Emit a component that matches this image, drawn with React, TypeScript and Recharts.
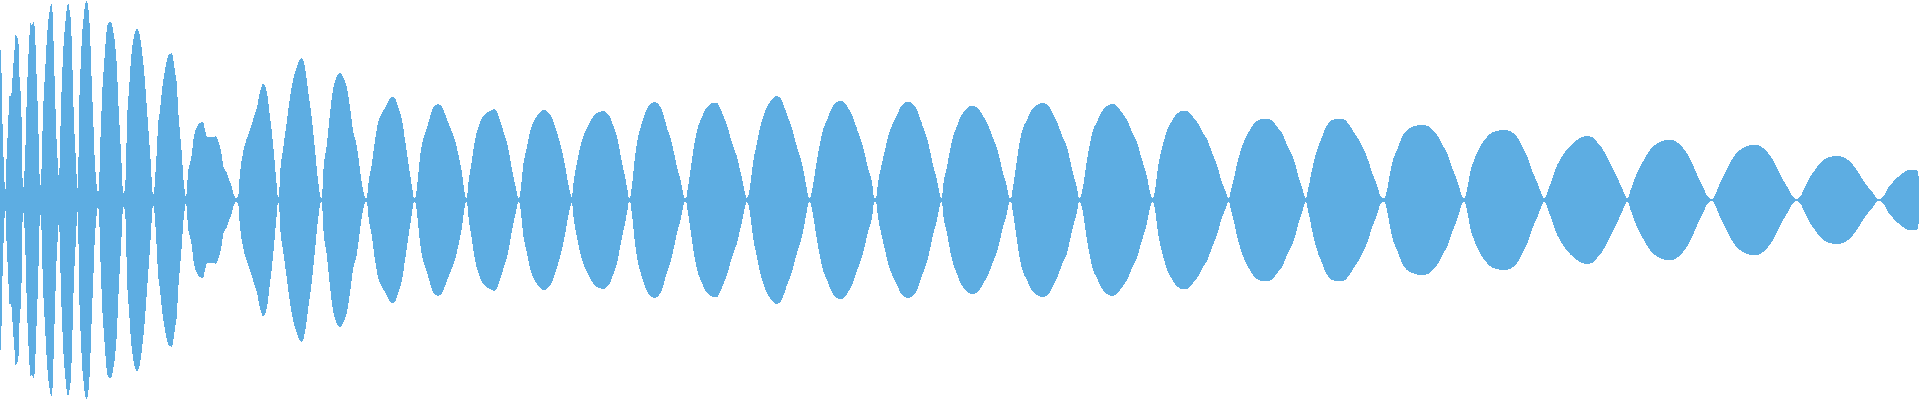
import { Area, AreaChart, XAxis, YAxis } from "recharts";

// envelope of the waveform: [time (ms), peak amplitude]; the wave is mirrored around 0
const attack: [number, number][] = [
  [0, 152], [1, 147], [2, 100], [3, 57], [4, 33], [5, 10], [6, 15],
  [7, 62], [8, 62], [9, 104], [11, 104], [12, 113], [13, 131], [14, 143], [15, 157], [16, 169], [17, 160], [18, 164], [19, 143], [20, 110], [21, 108], [22, 50], [23, 8],
  [24, 22], [25, 37], [26, 73], [27, 110], [28, 133], [29, 157], [30, 171], [31, 179], [32, 172], [33, 179], [34, 177], [35, 168], [36, 140], [37, 113], [38, 85], [39, 48], [40, 14], [41, 18],
  [42, 48], [43, 87], [44, 107], [45, 127], [46, 145], [47, 163], [48, 175], [49, 185], [50, 190], [51, 196], [52, 196], [53, 175], [54, 143], [55, 107], [56, 77], [57, 48], [58, 37], [59, 18],
  [60, 53], [61, 92], [62, 120], [63, 143], [64, 162], [65, 173], [66, 185], [67, 192], [68, 197], [69, 193], [70, 187], [71, 177], [72, 148], [73, 112], [74, 77], [75, 58], [76, 37], [77, 17],
  [78, 10], [79, 85], [80, 117], [81, 142], [82, 163], [83, 177], [84, 185], [85, 195], [86, 198], [87, 199], [88, 193], [89, 185], [90, 167], [91, 140], [92, 110], [93, 87], [94, 60], [95, 33], [96, 25], [97, 10], [98, 8],
  [99, 10], [100, 50], [101, 73], [102, 103], [103, 120], [104, 135], [105, 148], [106, 163], [107, 172], [108, 176], [109, 177], [110, 178], [111, 178], [112, 176], [113, 170], [114, 164], [115, 157], [116, 145], [117, 132], [118, 105], [119, 85], [120, 65], [121, 47], [122, 27], [123, 7],
  [124, 8], [125, 10], [126, 35], [127, 77], [129, 110], [131, 140], [133, 158], [135, 168], [137, 172], [139, 168], [141, 157], [143, 140], [145, 118], [147, 90], [149, 62], [151, 33], [152, 15], [153, 5],
  [154, 8], [155, 20], [157, 53], [158, 73], [160, 90], [162, 110], [163, 118], [165, 130], [167, 140], [168, 144], [170, 146], [172, 147], [173, 142], [175, 128], [177, 113], [178, 93], [180, 67], [182, 43], [183, 27], [185, 7],
  [186, 2], [187, 12], [188, 27], [190, 37], [192, 47], [193, 57], [195, 68], [197, 73], [198, 75], [200, 77], [202, 78], [203, 78], [205, 70], [207, 63], [210, 63], [213, 63], [216, 64], [218, 60], [220, 53], [222, 43], [223, 35], [225, 30], [227, 27], [228, 23], [230, 18], [232, 13], [233, 8], [235, 3], [236, 2],
  [238, 3], [240, 27], [243, 47], [247, 62], [250, 70], [253, 80], [257, 93], [260, 108], [263, 116], [265, 114], [267, 107], [270, 83], [273, 57], [276, 23], [278, 3],
];

const sustainA: [number, number][] = [
  [279, 3], [280, 25], [283, 50], [287, 80], [290, 103], [293, 120], [297, 133], [300, 141], [302, 142], [305, 132], [308, 110], [312, 80], [315, 50], [318, 20], [321, 2],
  [322, 2], [323, 23], [327, 57], [330, 87], [333, 110], [337, 124], [340, 127], [343, 123], [347, 112], [350, 93], [353, 70], [357, 53], [360, 30], [363, 10], [366, 2],
  [367, 2], [368, 13], [372, 37], [375, 60], [378, 77], [382, 87], [385, 92], [388, 98], [392, 103], [395, 102], [398, 93], [402, 80], [405, 60], [408, 40], [412, 13], [414, 2],
  [415, 2], [417, 13], [420, 43], [423, 60], [427, 72], [430, 83], [433, 92], [438, 96], [442, 93], [445, 86], [448, 78], [452, 68], [455, 60], [458, 47], [462, 27], [465, 5], [466, 2],
  [467, 2], [468, 13], [472, 40], [475, 60], [478, 72], [482, 82], [485, 86], [488, 88], [492, 90], [494, 91], [497, 88], [500, 80], [503, 70], [507, 57], [510, 42], [513, 25], [517, 7], [518, 2],
  [519, 2], [521, 13], [523, 33], [527, 53], [530, 68], [533, 77], [537, 84], [540, 88], [544, 90], [548, 88], [552, 82], [555, 74], [558, 64], [561, 53], [564, 40], [567, 23], [570, 8], [572, 2],
  [573, 13], [577, 37], [580, 52], [583, 63], [587, 72], [590, 78], [593, 83], [597, 87], [600, 88], [603, 89], [607, 87], [610, 83], [613, 75], [617, 63], [620, 48], [623, 33], [627, 13], [629, 2],
  [630, 2], [632, 15], [635, 43], [638, 63], [642, 77], [645, 87], [648, 93], [652, 97], [654, 98], [657, 97], [661, 92], [664, 83], [667, 72], [671, 60], [674, 47], [677, 33], [681, 18], [684, 3], [685, 2],
  [686, 2], [688, 13], [692, 40], [695, 60], [698, 73], [702, 83], [705, 90], [708, 94], [713, 97], [717, 97], [720, 92], [723, 85], [727, 75], [730, 64], [733, 54], [737, 43], [740, 30], [743, 17], [746, 3], [747, 2],
];

const sustainB: [number, number][] = [
  [750, 13], [753, 37], [757, 57], [760, 72], [763, 83], [767, 93], [770, 98], [773, 102], [777, 104], [781, 101], [784, 94], [787, 85], [791, 75], [794, 64], [797, 53], [801, 40], [804, 27], [807, 10], [809, 2],
  [810, 2], [813, 15], [817, 40], [820, 57], [823, 70], [827, 80], [830, 88], [833, 94], [837, 98], [841, 99], [845, 97], [848, 92], [852, 85], [855, 77], [858, 68], [862, 57], [865, 45], [868, 32], [872, 18], [874, 3], [875, 2],
  [876, 2], [878, 17], [882, 37], [885, 50], [888, 63], [891, 72], [895, 81], [898, 87], [900, 92], [903, 96], [908, 98], [913, 96], [917, 90], [920, 82], [923, 73], [927, 62], [930, 49], [933, 35], [937, 20], [940, 5], [941, 2],
  [942, 2], [943, 13], [947, 33], [950, 50], [953, 63], [957, 74], [960, 82], [963, 87], [967, 92], [972, 94], [977, 93], [980, 89], [983, 84], [987, 77], [990, 70], [993, 62], [997, 52], [1000, 40], [1003, 27], [1007, 13], [1009, 3], [1010, 2],
  [1011, 2], [1013, 13], [1017, 40], [1020, 60], [1023, 72], [1027, 80], [1030, 87], [1033, 92], [1037, 95], [1042, 97], [1047, 96], [1050, 92], [1053, 86], [1057, 78], [1060, 70], [1063, 62], [1067, 53], [1070, 40], [1073, 27], [1077, 12], [1079, 2],
  [1080, 2], [1083, 13], [1087, 40], [1090, 57], [1093, 70], [1097, 78], [1100, 85], [1103, 90], [1107, 94], [1112, 96], [1117, 94], [1120, 90], [1123, 86], [1127, 80], [1130, 73], [1133, 66], [1137, 58], [1140, 47], [1143, 37], [1147, 23], [1150, 8], [1152, 2],
  [1153, 2], [1155, 10], [1158, 33], [1162, 52], [1165, 63], [1168, 72], [1172, 79], [1175, 84], [1178, 87], [1182, 89], [1187, 89], [1190, 87], [1193, 83], [1197, 78], [1200, 73], [1203, 67], [1207, 61], [1210, 53], [1213, 45], [1217, 35], [1220, 24], [1223, 15], [1227, 5], [1228, 2],
  [1229, 2], [1231, 10], [1234, 22], [1237, 36], [1240, 47], [1243, 56], [1247, 65], [1250, 70], [1253, 75], [1257, 79], [1262, 81], [1267, 81], [1272, 80], [1275, 76], [1278, 72], [1282, 67], [1285, 60], [1288, 53], [1292, 45], [1295, 37], [1298, 25], [1302, 13], [1305, 3], [1306, 2],
];

const decay: [number, number][] = [
  [1308, 10], [1312, 30], [1315, 43], [1318, 53], [1322, 63], [1325, 71], [1328, 76], [1332, 80], [1337, 81], [1343, 81], [1347, 78], [1350, 74], [1353, 69], [1357, 63], [1360, 58], [1363, 52], [1367, 43], [1370, 34], [1373, 25], [1377, 15], [1380, 5], [1383, 2],
  [1384, 2], [1387, 10], [1390, 27], [1393, 40], [1397, 50], [1400, 58], [1403, 65], [1407, 70], [1410, 72], [1415, 74], [1422, 75], [1428, 74], [1433, 69], [1437, 65], [1440, 60], [1443, 54], [1447, 47], [1450, 39], [1453, 30], [1457, 20], [1460, 10], [1463, 2],
  [1464, 2], [1467, 10], [1470, 27], [1473, 37], [1477, 47], [1480, 53], [1483, 58], [1487, 63], [1490, 66], [1493, 68], [1497, 69], [1503, 70], [1510, 69], [1513, 67], [1517, 63], [1520, 58], [1523, 52], [1527, 44], [1530, 36], [1533, 27], [1537, 18], [1540, 10], [1543, 3], [1544, 2],
  [1545, 2], [1548, 10], [1552, 20], [1555, 30], [1560, 40], [1565, 48], [1570, 54], [1577, 60], [1582, 63], [1587, 64], [1592, 63], [1597, 58], [1602, 52], [1607, 43], [1612, 33], [1617, 23], [1622, 12], [1627, 2],
  [1628, 2], [1630, 8], [1635, 22], [1640, 33], [1645, 42], [1650, 50], [1655, 55], [1660, 58], [1667, 60], [1673, 60], [1678, 57], [1683, 52], [1688, 45], [1693, 35], [1698, 23], [1703, 13], [1708, 3], [1712, 1],
  [1715, 5], [1720, 17], [1725, 27], [1730, 37], [1735, 45], [1740, 50], [1745, 53], [1752, 55], [1758, 55], [1763, 52], [1768, 47], [1773, 40], [1778, 30], [1783, 20], [1788, 12], [1793, 3], [1797, 1],
  [1800, 3], [1805, 13], [1810, 23], [1815, 30], [1820, 37], [1825, 41], [1830, 43], [1837, 44], [1843, 43], [1848, 40], [1853, 35], [1858, 28], [1863, 20], [1868, 13], [1873, 7], [1878, 1],
  [1879, 1], [1883, 3], [1888, 12], [1893, 18], [1898, 23], [1903, 27], [1908, 30], [1915, 30], [1918, 29], [1919, 15],
];

const WAVE_COLOR = "#5DADE2";

const data = [...attack, ...sustainA, ...sustainB, ...decay].map(([t, a]) => ({
  t,
  range: [-a, a],
}));

export default function App() {
  return (
    <div style={{ width: 1920, height: 400 }}>
      <style>{`
        body { margin: 0; }
        .wave .recharts-area-area { shape-rendering: crispEdges; }
      `}</style>
      <AreaChart
        className="wave"
        width={1920}
        height={400}
        data={data}
        margin={{ top: 0, right: 0, bottom: 0, left: 0 }}
      >
        <XAxis dataKey="t" type="number" domain={[0, 1920]} hide />
        <YAxis type="number" domain={[-200, 200]} hide />
        <Area
          type="monotone"
          dataKey="range"
          stroke="none"
          fill={WAVE_COLOR}
          fillOpacity={1}
          dot={false}
          activeDot={false}
          isAnimationActive={false}
        />
      </AreaChart>
    </div>
  );
}
